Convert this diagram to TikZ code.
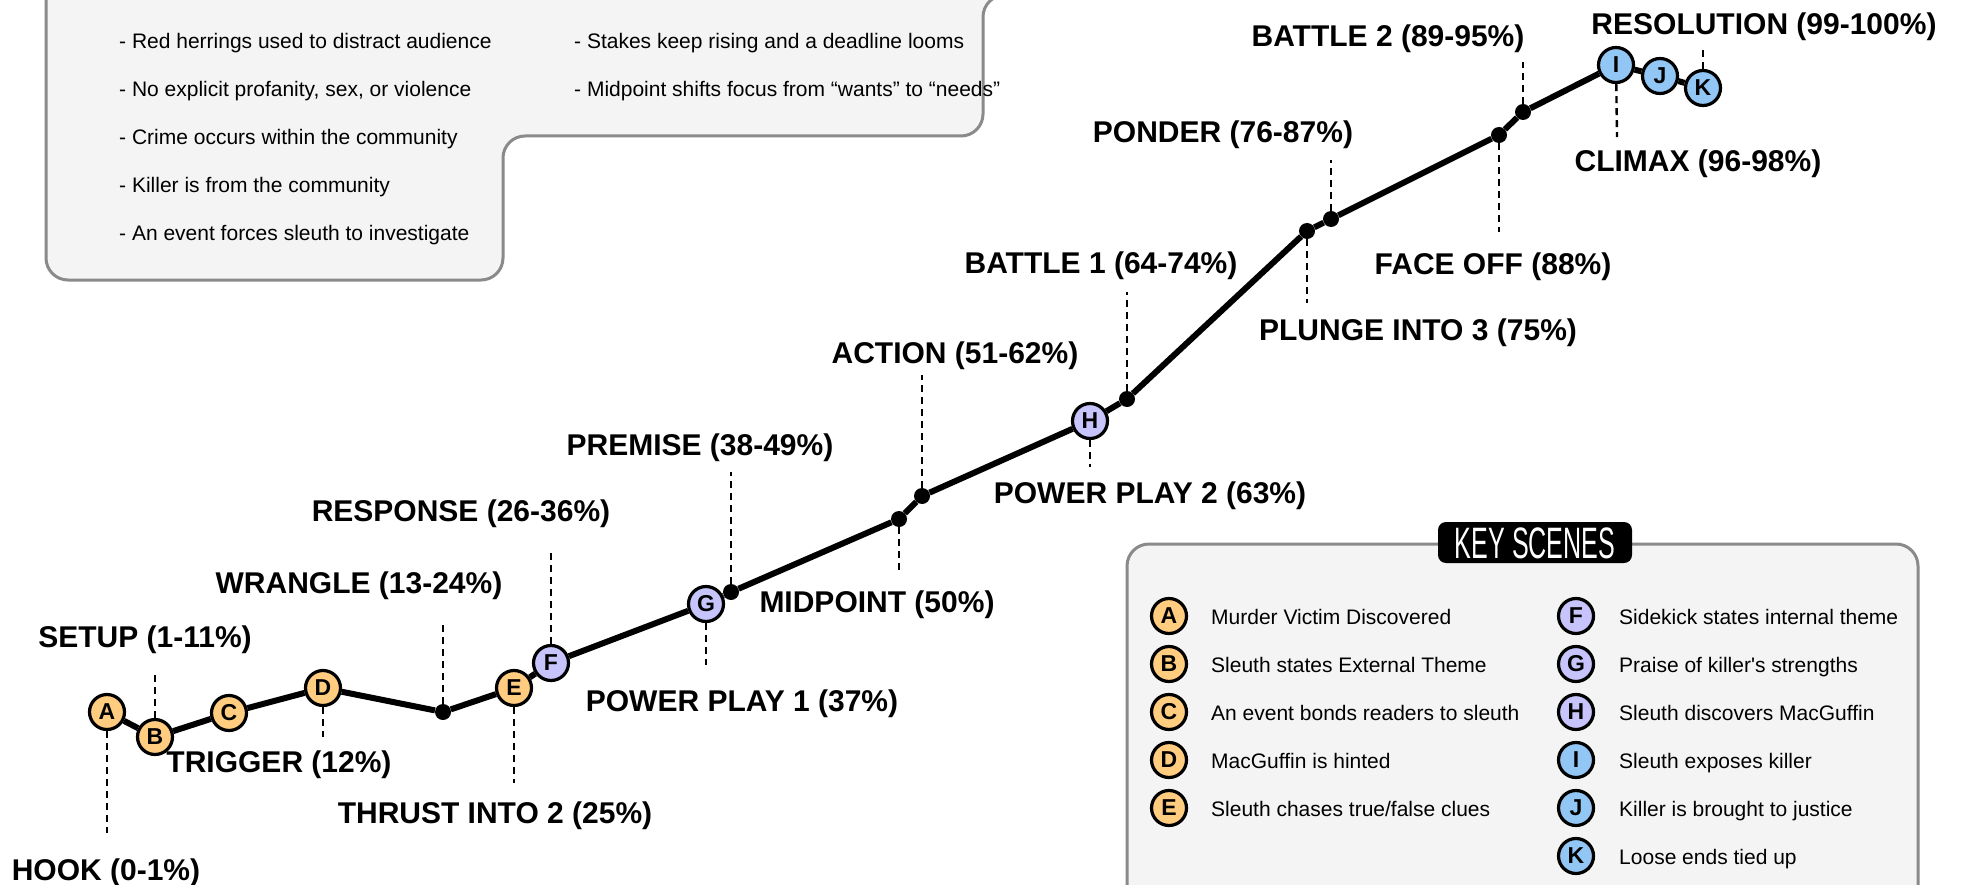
\documentclass[tikz,border=0pt]{standalone}
\usepackage{fontspec}
\setmainfont{Liberation Sans}
\definecolor{boxfill}{HTML}{F4F4F4}
\definecolor{boxline}{HTML}{8A8A8A}
\definecolor{orng}{HTML}{FFCC80}
\definecolor{lav}{HTML}{C7C4FC}
\definecolor{sky}{HTML}{92C6F5}
\tikzset{
  lbl/.style={font=\bfseries\fontsize{30}{36}\selectfont, inner sep=0pt, anchor=base},
  txt/.style={font=\fontsize{21}{25}\selectfont, inner sep=0pt, anchor=base west},
  scene/.style={circle, draw=black, line width=3.2pt, minimum size=35pt, inner sep=0pt, font=\bfseries\fontsize{23}{24}\selectfont},
  sora/.style={scene, fill=orng},
  slav/.style={scene, fill=lav},
  ssky/.style={scene, fill=sky},
  bdot/.style={circle, fill=black, minimum size=16pt, inner sep=0pt},
  guide/.style={line width=2.4pt, dash pattern=on 7pt off 5pt},
  mainline/.style={line width=6pt},
  panel/.style={fill=boxfill, draw=boxline, line width=3pt, rounded corners=22pt}
}
\begin{document}
\begin{tikzpicture}[x=1pt,y=-1pt]
\useasboundingbox (0,0) rectangle (1961,885);
\fill[white] (0,0) rectangle (1961,885);
\clip (0,0) rectangle (1961,885);

% top-left notes panel
\draw[panel] (46,-80) -- (46,280) -- (503,280) -- (503,136) -- (983,136) -- (983,-5) -- (1150,-5) -- (1150,-80) -- cycle;
\node[txt] (n1) at (119,49) {- Red herrings used to distract audience};
\node[txt] (n2) at (119,97) {- No explicit profanity, sex, or violence};
\node[txt] (n3) at (119,145) {- Crime occurs within the community};
\node[txt] (n4) at (119,193) {- Killer is from the community};
\node[txt] (n5) at (119,241) {- An event forces sleuth to investigate};
\node[txt] (n6) at (574,49) {- Stakes keep rising and a deadline looms};
\node[txt] (n7) at (574,97) {- Midpoint shifts focus from “wants” to “needs”};

% key scenes panel
\draw[panel] (1127,920) -- (1127,544) -- (1918,544) -- (1918,920) -- cycle;
\node[fill=black, rounded corners=8pt, minimum width=194pt, minimum height=41pt, inner sep=0pt] (kh) at (1535,542.5) {};
\node[text=white, inner sep=0pt, font=\fontsize{44}{44}\selectfont] (kt) at (1535,543) {\scalebox{0.57}[1]{KEY SCENES}};

% legend
\foreach \n/\l/\y/\s/\t in {la/A/616/sora/{Murder Victim Discovered},
  lb/B/664/sora/{Sleuth states External Theme},
  lc/C/712/sora/{An event bonds readers to sleuth},
  ld/D/760/sora/{MacGuffin is hinted},
  le/E/808/sora/{Sleuth chases true/false clues}}{
  \node[\s] (\n) at (1169,\y) {\l};
  \node[txt] (\n t) at (1211,\y+8) {\t};
}
\foreach \n/\l/\y/\s/\t in {lf/F/616/slav/{Sidekick states internal theme},
  lg/G/664/slav/{Praise of killer\textquotesingle s strengths},
  lh/H/712/slav/{Sleuth discovers MacGuffin},
  li/I/760/ssky/{Sleuth exposes killer},
  lj/J/808/ssky/{Killer is brought to justice},
  lk/K/856/ssky/{Loose ends tied up}}{
  \node[\s] (\n) at (1576,\y) {\l};
  \node[txt] (\n t) at (1619,\y+8) {\t};
}

% story path nodes
\node[sora] (A) at (107,712) {A};
\node[sora] (B) at (155,737) {B};
\node[sora] (C) at (229,713) {C};
\node[sora] (D) at (323,688) {D};
\node[bdot] (w) at (443,712) {};
\node[sora] (E) at (514,688) {E};
\node[slav] (F) at (551,663) {F};
\node[slav] (G) at (706,604) {G};
\node[bdot] (pm) at (731,592) {};
\node[bdot] (md) at (899,519) {};
\node[bdot] (ac) at (922,496) {};
\node[slav] (H) at (1090,421) {H};
\node[bdot] (b1) at (1127,399) {};
\node[bdot] (pl) at (1307,231) {};
\node[bdot] (po) at (1331,219) {};
\node[bdot] (fo) at (1499,135) {};
\node[bdot] (b2) at (1523,112) {};
\node[ssky] (I) at (1616,65) {I};
\node[ssky] (J) at (1660,76) {J};
\node[ssky] (K) at (1703,88) {K};

\draw[mainline] (A) -- (B) -- (C) -- (D) -- (w) -- (E) -- (F) -- (G) -- (pm) -- (md) -- (ac) -- (H) -- (b1) -- (pl) -- (po) -- (fo) -- (b2) -- (I) -- (J) -- (K);

% guide ends
\coordinate (gA) at (107,833);
\coordinate (gB) at (155,673);
\coordinate (gD) at (323,737);
\coordinate (gw) at (443,620);
\coordinate (gE) at (514,783);
\coordinate (gF) at (551,550);
\coordinate (gG) at (706,665);
\coordinate (gpm) at (731,472);
\coordinate (gmd) at (899,572);
\coordinate (gac) at (922,375);
\coordinate (gH) at (1090,467);
\coordinate (gb1) at (1127,292);
\coordinate (gpl) at (1307,303);
\coordinate (gpo) at (1331,160);
\coordinate (gfo) at (1499,232);
\coordinate (gb2) at (1523,62);
\coordinate (gI) at (1617,137);
\coordinate (gK) at (1703,47);
\foreach \a/\b in {A/gA,B/gB,D/gD,w/gw,E/gE,F/gF,G/gG,pm/gpm,md/gmd,ac/gac,H/gH,b1/gb1,pl/gpl,po/gpo,fo/gfo,b2/gb2,I/gI,K/gK}
  \draw[guide] (\a) -- (\b);

% labels
\node[lbl] (tA) at (106,880) {HOOK (0-1\%)};
\node[lbl] (tB) at (145,647) {SETUP (1-11\%)};
\node[lbl] (tD) at (279,772) {TRIGGER (12\%)};
\node[lbl] (tw) at (359,593) {WRANGLE (13-24\%)};
\node[lbl] (tE) at (495,823) {THRUST INTO 2 (25\%)};
\node[lbl] (tF) at (461,521) {RESPONSE (26-36\%)};
\node[lbl] (tG) at (742,711) {POWER PLAY 1 (37\%)};
\node[lbl] (tpm) at (700,455) {PREMISE (38-49\%)};
\node[lbl] (tmd) at (877,612) {MIDPOINT (50\%)};
\node[lbl] (tac) at (955,363) {ACTION (51-62\%)};
\node[lbl] (tH) at (1150,503) {POWER PLAY 2 (63\%)};
\node[lbl] (tb1) at (1101,273) {BATTLE 1 (64-74\%)};
\node[lbl] (tpl) at (1418,340) {PLUNGE INTO 3 (75\%)};
\node[lbl] (tpo) at (1223,143) {PONDER (76-87\%)};
\node[lbl] (tfo) at (1493,275) {FACE OFF (88\%)};
\node[lbl] (tb2) at (1388,47) {BATTLE 2 (89-95\%)};
\node[lbl] (tK) at (1764,35) {RESOLUTION (99-100\%)};
\node[lbl] (tI) at (1698,172) {CLIMAX (96-98\%)};
\end{tikzpicture}
\end{document}
